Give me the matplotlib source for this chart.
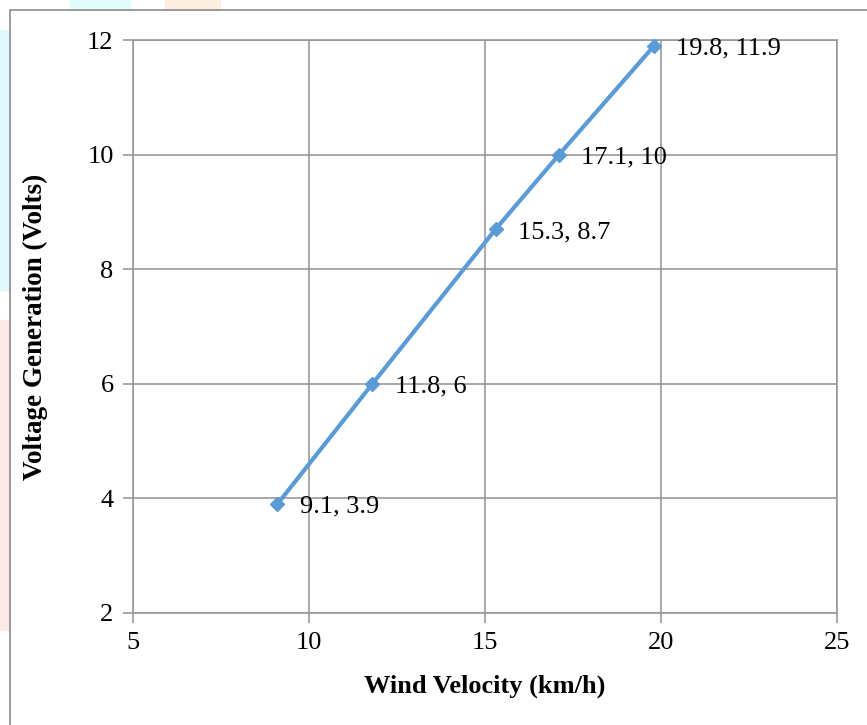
import matplotlib.pyplot as plt
from matplotlib.patches import Rectangle

wind = [9.1, 11.8, 15.3, 17.1, 19.8]
volts = [3.9, 6, 8.7, 10, 11.9]
labels = ["9.1, 3.9", "11.8, 6", "15.3, 8.7", "17.1, 10", "19.8, 11.9"]

plt.rcParams['font.family'] = ['Liberation Serif', 'DejaVu Serif']

fig = plt.figure(figsize=(8.67, 7.25), dpi=100)
ax = fig.add_axes([0.1534, 0.1545, 0.812, 0.790])

# faint watermark bits peeking round the border
for (x0, y0, w, h, c) in [(70, 0, 60, 10, '#e2fcfc'), (165, 0, 55, 10, '#fdeee2'),
                          (0, 30, 10, 260, '#e2f9fb'), (0, 320, 10, 310, '#fde8e8')]:
    fig.patches.append(Rectangle((x0 / 867, 1 - (y0 + h) / 725), w / 867, h / 725,
                                 transform=fig.transFigure, color=c, zorder=0))

# outer chart border
fig.patches.append(Rectangle((10 / 867, -0.01), 1.0, 1 - 10 / 725 + 0.01,
                             transform=fig.transFigure, fill=False,
                             edgecolor='#8c8c8c', linewidth=1.2))

ax.plot(wind, volts, color='#5B9BD5', linewidth=3, marker='D', markersize=7,
        zorder=3, clip_on=False)
for x, y, t in zip(wind, volts, labels):
    ax.annotate(t, (x, y), xytext=(16, -2), textcoords='offset points',
                va='center', ha='left', fontsize=19)

ax.set_xlim(5, 25)
ax.set_ylim(2, 12)
ax.set_xticks([5, 10, 15, 20, 25])
ax.set_yticks([2, 4, 6, 8, 10, 12])
ax.grid(True, color='#999999', linewidth=1.2)
ax.set_axisbelow(True)
for s in ax.spines.values():
    s.set_color('#999999')
    s.set_linewidth(1.2)
ax.tick_params(colors='#999999', length=7, width=1.2, labelcolor='black',
               labelsize=19, pad=7)

ax.set_xlabel('Wind Velocity (km/h)', fontsize=19, fontweight='bold', va='center')
ax.set_ylabel('Voltage Generation (Volts)', fontsize=19.5, fontweight='bold', va='center')
ax.xaxis.set_label_coords(0.5, (613 - 686) / 573)
ax.yaxis.set_label_coords((35 - 133) / 704, 0.5)

fig.savefig('out.png', dpi=100)
